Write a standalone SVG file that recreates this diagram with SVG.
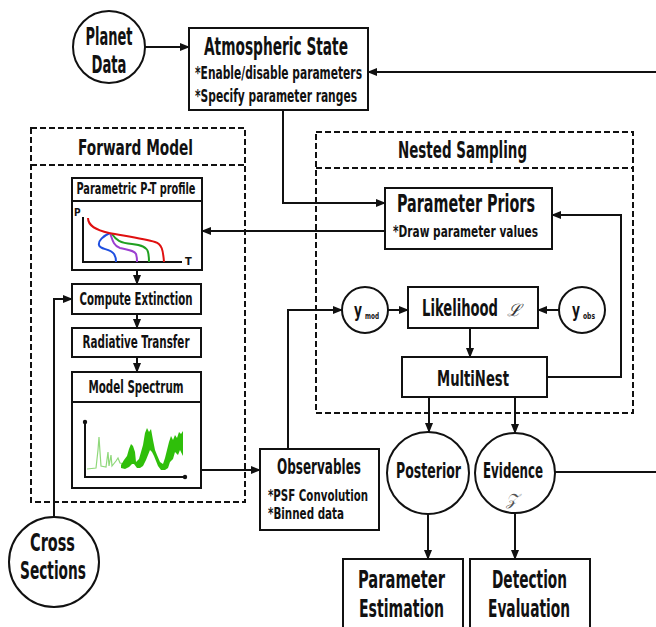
<svg xmlns="http://www.w3.org/2000/svg" width="656" height="627" viewBox="0 0 656 627">
<style>
.t{font-family:"DejaVu Sans Condensed","DejaVu Sans",sans-serif;font-weight:bold;fill:#111;}
.box{fill:#fff;stroke:#111;stroke-width:2;}
.dash{fill:none;stroke:#111;stroke-width:2;stroke-dasharray:6 3;}
.conn{fill:none;stroke:#111;stroke-width:2;}
.ax{fill:none;stroke:#111;stroke-width:2;}
.m{text-anchor:middle;}
</style>
<defs>
<marker id="ah" markerWidth="10" markerHeight="8" refX="9" refY="4" orient="auto" markerUnits="userSpaceOnUse"><path d="M0,0 L10,4 L0,8 z" fill="#111"/></marker>
</defs>
<rect width="656" height="627" fill="#fff"/>

<g id="forward-model">
<rect class="dash" x="31" y="128" width="214" height="374"/>
<line class="dash" x1="31" y1="165" x2="245" y2="165"/>
<text class="t m" x="135.5" y="155" font-size="22" textLength="115" lengthAdjust="spacingAndGlyphs">Forward Model</text>
</g>
<g id="nested-sampling">
<rect class="dash" x="316" y="132" width="317" height="281"/>
<line class="dash" x1="316" y1="168" x2="633" y2="168"/>
<text class="t m" x="462.5" y="158" font-size="23" textLength="129" lengthAdjust="spacingAndGlyphs">Nested Sampling</text>
</g>

<g id="connectors">
<path class="conn" d="M145,47 H189" marker-end="url(#ah)"/>
<path class="conn" d="M656,72 H368" marker-end="url(#ah)"/>
<path class="conn" d="M283,110 V203 H385" marker-end="url(#ah)"/>
<path class="conn" d="M385,231 H202" marker-end="url(#ah)"/>
<path class="conn" d="M137,270 V284" marker-end="url(#ah)"/>
<path class="conn" d="M137,314 V328" marker-end="url(#ah)"/>
<path class="conn" d="M137,357 V372" marker-end="url(#ah)"/>
<path class="conn" d="M201,470 H260" marker-end="url(#ah)"/>
<path class="conn" d="M288,449 V310 H342" marker-end="url(#ah)"/>
<path class="conn" d="M388,310 H408" marker-end="url(#ah)"/>
<path class="conn" d="M559,310 H538" marker-end="url(#ah)"/>
<path class="conn" d="M470,328 V357" marker-end="url(#ah)"/>
<path class="conn" d="M547,377 H621 V215 H552" marker-end="url(#ah)"/>
<path class="conn" d="M429,397 V432" marker-end="url(#ah)"/>
<path class="conn" d="M515,397 V433" marker-end="url(#ah)"/>
<path class="conn" d="M428,514 V559" marker-end="url(#ah)"/>
<path class="conn" d="M515,513 V559" marker-end="url(#ah)"/>
<path class="conn" d="M555,472 H656"/>
<path class="conn" d="M54,517 V299 H72" marker-end="url(#ah)"/>
</g>

<g id="planet-data">
<circle class="box" cx="109" cy="47" r="36"/>
<text class="t m" x="109" y="45" font-size="24" textLength="47" lengthAdjust="spacingAndGlyphs">Planet</text>
<text class="t m" x="109" y="73" font-size="24" textLength="35" lengthAdjust="spacingAndGlyphs">Data</text>
</g>

<g id="atmospheric-state">
<rect class="box" x="189" y="28" width="179" height="82"/>
<text class="t m" x="276" y="55" font-size="24" textLength="144" lengthAdjust="spacingAndGlyphs">Atmospheric State</text>
<text class="t" x="195" y="79" font-size="17" textLength="167" lengthAdjust="spacingAndGlyphs">*Enable/disable parameters</text>
<text class="t" x="195" y="102" font-size="17" textLength="162" lengthAdjust="spacingAndGlyphs">*Specify parameter ranges</text>
</g>

<g id="pt-profile">
<rect class="box" x="72" y="178" width="130" height="92"/>
<line class="ax" x1="72" y1="201" x2="202" y2="201"/>
<text class="t m" x="136" y="194" font-size="15" textLength="119" lengthAdjust="spacingAndGlyphs">Parametric P-T profile</text>
<text class="t" x="74" y="216" font-size="10">P</text>
<text class="t" x="185" y="265" font-size="11">T</text>
<path class="ax" d="M83,217 V262 H182"/>
<path fill="none" stroke="#1e4fe0" stroke-width="2" d="M110,233 C103,236 98,241 99,245 C100,250 110,248 114,254 C116,257 116,260 116,262"/>
<path fill="none" stroke="#9b3fd0" stroke-width="2" d="M110,233 C112,238 113,246 120,248 C128,250 134,250 136,254 C137,257 137,260 137,262"/>
<path fill="none" stroke="#20a020" stroke-width="2" d="M112,234 C116,240 120,243 132,244 C143,245 147,248 148,252 C149,256 149,260 149,262"/>
<path fill="none" stroke="#e01010" stroke-width="2" d="M88,218 C88,226 96,230 109,233 C125,236 145,239 155,242 C162,244 163,250 164,262"/>
</g>

<g id="compute-extinction">
<rect class="box" x="72" y="284" width="129" height="30"/>
<text class="t m" x="136" y="305" font-size="17" textLength="113" lengthAdjust="spacingAndGlyphs">Compute Extinction</text>
</g>

<g id="radiative-transfer">
<rect class="box" x="72" y="328" width="129" height="29"/>
<text class="t m" x="136" y="348" font-size="17" textLength="107" lengthAdjust="spacingAndGlyphs">Radiative Transfer</text>
</g>

<g id="model-spectrum">
<rect class="box" x="72" y="372" width="129" height="116"/>
<line class="ax" x1="72" y1="402" x2="201" y2="402"/>
<text class="t m" x="136" y="393" font-size="17" textLength="95" lengthAdjust="spacingAndGlyphs">Model Spectrum</text>
<path class="ax" d="M85,422 V477 H185"/>
<circle cx="85" cy="422" r="2.2" fill="#111"/>
<circle cx="185" cy="477" r="2.2" fill="#111"/>
<path fill="none" stroke="#8fd87a" stroke-width="1.2" d="M87,469 L96,468 L98,450 L99,437 L100,452 L101,466 L106,467 L108,452 L109,466 L111,455 L112,466 L116,461 L118,458 L120,463 L124,464"/>
<path fill="#2fbf0a" d="M121,465 L124,460 L127,456 L129,449 L131,444 L133,446 L135,452 L136,462 L139,459 L141,452 L143,445 L145,433 L147,428 L149,432 L151,429 L153,440 L155,450 L157,455 L160,462 L163,464 L165,458 L167,450 L169,442 L171,436 L173,440 L175,435 L177,438 L179,432 L181,434 L183,431 L183,456 L180,450 L178,455 L175,452 L173,459 L170,462 L168,468 L165,470 L161,470 L158,466 L156,461 L154,456 L152,452 L150,450 L148,455 L146,460 L143,466 L140,468 L137,468 L134,464 L132,464 L129,467 L125,469 L121,468 z"/>
</g>

<g id="observables">
<rect class="box" x="260" y="449" width="119" height="81"/>
<text class="t m" x="319" y="474" font-size="21" textLength="84" lengthAdjust="spacingAndGlyphs">Observables</text>
<text class="t" x="268" y="501" font-size="16" textLength="100" lengthAdjust="spacingAndGlyphs">*PSF Convolution</text>
<text class="t" x="268" y="519" font-size="16" textLength="76" lengthAdjust="spacingAndGlyphs">*Binned data</text>
</g>

<g id="parameter-priors">
<rect class="box" x="385" y="188" width="167" height="61"/>
<text class="t m" x="466" y="212" font-size="24" textLength="138" lengthAdjust="spacingAndGlyphs">Parameter Priors</text>
<text class="t" x="393" y="237" font-size="15" textLength="145" lengthAdjust="spacingAndGlyphs">*Draw parameter values</text>
</g>

<g id="y-mod">
<circle class="box" cx="365" cy="310" r="23"/>
<text class="t" x="354" y="317" font-size="20"><tspan textLength="8" lengthAdjust="spacingAndGlyphs">y</tspan><tspan x="365" y="319" font-size="8" textLength="14" lengthAdjust="spacingAndGlyphs">mod</tspan></text>
</g>

<g id="likelihood">
<rect class="box" x="408" y="287" width="130" height="41"/>
<text class="t" x="422" y="316" font-size="23"><tspan textLength="76" lengthAdjust="spacingAndGlyphs">Likelihood</tspan><tspan x="507" font-size="17" font-family="DejaVu Serif, serif" font-style="italic" font-weight="normal" fill="#333">ℒ</tspan></text>
</g>

<g id="y-obs">
<circle class="box" cx="582" cy="310" r="23"/>
<text class="t" x="572" y="317" font-size="20"><tspan textLength="8" lengthAdjust="spacingAndGlyphs">y</tspan><tspan x="583" y="319" font-size="8" textLength="12" lengthAdjust="spacingAndGlyphs">obs</tspan></text>
</g>

<g id="multinest">
<rect class="box" x="402" y="357" width="145" height="40"/>
<text class="t m" x="473" y="386" font-size="22" textLength="72" lengthAdjust="spacingAndGlyphs">MultiNest</text>
</g>

<g id="posterior">
<circle class="box" cx="428" cy="473" r="41"/>
<text class="t m" x="428.5" y="478" font-size="22" textLength="65" lengthAdjust="spacingAndGlyphs">Posterior</text>
</g>

<g id="evidence">
<circle class="box" cx="515" cy="473" r="40"/>
<text class="t m" x="513" y="478" font-size="22" textLength="60" lengthAdjust="spacingAndGlyphs">Evidence</text>
<text class="m" x="512" y="505" font-size="16" font-family="DejaVu Serif, serif" font-style="italic" fill="#555">𝒵</text>
</g>

<g id="parameter-estimation">
<rect class="box" x="343" y="559" width="120" height="80"/>
<text class="t m" x="401.5" y="588" font-size="24" textLength="87" lengthAdjust="spacingAndGlyphs">Parameter</text>
<text class="t m" x="401.5" y="617" font-size="24" textLength="85" lengthAdjust="spacingAndGlyphs">Estimation</text>
</g>

<g id="detection-evaluation">
<rect class="box" x="470" y="559" width="120" height="80"/>
<text class="t m" x="529.5" y="588" font-size="24" textLength="75" lengthAdjust="spacingAndGlyphs">Detection</text>
<text class="t m" x="529" y="617" font-size="24" textLength="82" lengthAdjust="spacingAndGlyphs">Evaluation</text>
</g>

<g id="cross-sections">
<circle class="box" cx="54" cy="562" r="45"/>
<text class="t m" x="52.5" y="551" font-size="24" textLength="45" lengthAdjust="spacingAndGlyphs">Cross</text>
<text class="t m" x="53" y="579" font-size="24" textLength="66" lengthAdjust="spacingAndGlyphs">Sections</text>
</g>
</svg>
